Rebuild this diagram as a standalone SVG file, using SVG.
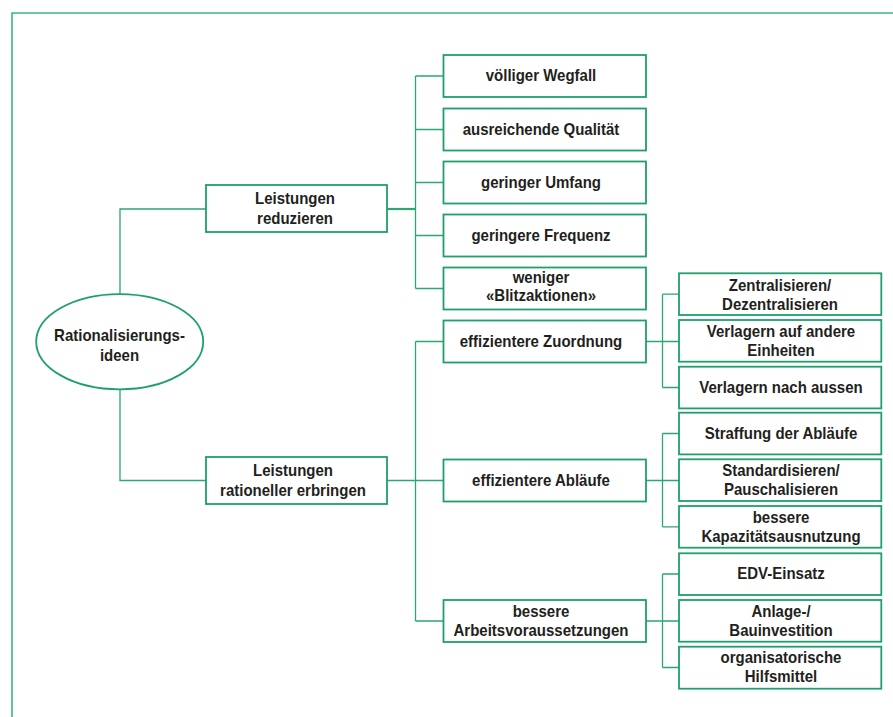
<svg xmlns="http://www.w3.org/2000/svg" width="893" height="717" viewBox="0 0 893 717">
<style>
.box{fill:#fff;stroke:#1fa06a;stroke-width:1.8}
.ln{fill:none;stroke:#2aa772;stroke-width:1.3}
.frame{fill:none;stroke:#3cb57f;stroke-width:1.6}
text{font-family:"Liberation Sans",Arial,sans-serif;font-weight:bold;font-size:15px;fill:#231f20;text-anchor:middle}
</style>
<rect width="893" height="717" fill="#fff"/>
<path class="frame" d="M12,717 V13 H893"/>
<g id="connectors">
<path class="ln" d="M206,209 H120 V294"/>
<path class="ln" d="M120,389 V480.5 H206"/>
<path class="ln" d="M387,209 H415.5" style="stroke-width:2.2"/>
<path class="ln" d="M415.5,76 V288.5"/>
<path class="ln" d="M415.5,76 H443 M415.5,129.5 H443 M415.5,182.5 H443 M415.5,235.5 H443 M415.5,288.5 H443"/>
<path class="ln" d="M387,480.5 H443"/>
<path class="ln" d="M415.5,341.5 V621"/>
<path class="ln" d="M415.5,341.5 H443 M415.5,621 H443"/>
<path class="ln" d="M646,341.5 H679 M662.5,294.2 V387.5 M662.5,294.2 H679 M662.5,387.5 H679"/>
<path class="ln" d="M646,480.5 H679 M662.5,433.5 V526.8 M662.5,433.5 H679 M662.5,526.8 H679"/>
<path class="ln" d="M646,621 H679 M662.5,574 V667.5 M662.5,574 H679 M662.5,667.5 H679"/>
</g>
<g id="root">
<ellipse class="box" cx="119.7" cy="341.7" rx="83.5" ry="47.6"/>
<text x="119.5" y="341" transform="matrix(1,0,0,1.13,0,-44.33)">Rationalisierungs-</text>
<text x="119.5" y="361.5" transform="matrix(1,0,0,1.13,0,-47.0)">ideen</text>
</g>
<g id="reduzieren">
<rect class="box" x="206" y="185" width="181" height="47"/>
<text x="295" y="204" transform="matrix(1,0,0,1.13,0,-26.52)">Leistungen</text>
<text x="295" y="224.5" transform="matrix(1,0,0,1.13,0,-29.19)">reduzieren</text>
</g>
<g id="rationeller">
<rect class="box" x="206" y="457" width="181" height="47"/>
<text x="293" y="476" transform="matrix(1,0,0,1.13,0,-61.88)">Leistungen</text>
<text x="293" y="496" transform="matrix(1,0,0,1.13,0,-64.48)">rationeller erbringen</text>
</g>
<g id="wegfall">
<rect class="box" x="443.5" y="55" width="202.5" height="42"/>
<text x="541" y="81.5" transform="matrix(1,0,0,1.13,0,-10.6)">völliger Wegfall</text>
</g>
<g id="qualitaet">
<rect class="box" x="443.5" y="108.5" width="202.5" height="42"/>
<text x="541" y="135" transform="matrix(1,0,0,1.13,0,-17.55)">ausreichende Qualität</text>
</g>
<g id="umfang">
<rect class="box" x="443.5" y="161.5" width="202.5" height="42"/>
<text x="541" y="188" transform="matrix(1,0,0,1.13,0,-24.44)">geringer Umfang</text>
</g>
<g id="frequenz">
<rect class="box" x="443.5" y="214.5" width="202.5" height="42"/>
<text x="541" y="241" transform="matrix(1,0,0,1.13,0,-31.33)">geringere Frequenz</text>
</g>
<g id="blitz">
<rect class="box" x="443.5" y="267.5" width="202.5" height="42"/>
<text x="541" y="283.5" transform="matrix(1,0,0,1.13,0,-36.86)">weniger</text>
<text x="541" y="301" transform="matrix(1,0,0,1.13,0,-39.13)">«Blitzaktionen»</text>
</g>
<g id="zuordnung">
<rect class="box" x="443.5" y="320.5" width="202.5" height="42"/>
<text x="541" y="347" transform="matrix(1,0,0,1.13,0,-45.11)">effizientere Zuordnung</text>
</g>
<g id="ablaeufe">
<rect class="box" x="443.5" y="459.5" width="202.5" height="42"/>
<text x="541" y="486" transform="matrix(1,0,0,1.13,0,-63.18)">effizientere Abläufe</text>
</g>
<g id="arbeit">
<rect class="box" x="443.5" y="600" width="202.5" height="42"/>
<text x="541" y="617.5" transform="matrix(1,0,0,1.13,0,-80.28)">bessere</text>
<text x="541" y="636" transform="matrix(1,0,0,1.13,0,-82.68)">Arbeitsvoraussetzungen</text>
</g>
<g id="zentral">
<rect class="box" x="679" y="273.3" width="202.3" height="41.7"/>
<text x="780" y="291" transform="matrix(1,0,0,1.13,0,-37.83)">Zentralisieren/</text>
<text x="780" y="310" transform="matrix(1,0,0,1.13,0,-40.3)">Dezentralisieren</text>
</g>
<g id="einheiten">
<rect class="box" x="679" y="320" width="202.3" height="41.7"/>
<text x="781" y="337" transform="matrix(1,0,0,1.13,0,-43.81)">Verlagern auf andere</text>
<text x="781" y="356" transform="matrix(1,0,0,1.13,0,-46.28)">Einheiten</text>
</g>
<g id="aussen">
<rect class="box" x="679" y="366.7" width="202.3" height="41.7"/>
<text x="781" y="393" transform="matrix(1,0,0,1.13,0,-51.09)">Verlagern nach aussen</text>
</g>
<g id="straffung">
<rect class="box" x="679" y="412.7" width="202.3" height="41.7"/>
<text x="781" y="439" transform="matrix(1,0,0,1.13,0,-57.07)">Straffung der Abläufe</text>
</g>
<g id="standard">
<rect class="box" x="679" y="459.3" width="202.3" height="41.7"/>
<text x="781" y="476.5" transform="matrix(1,0,0,1.13,0,-61.95)">Standardisieren/</text>
<text x="781" y="495.5" transform="matrix(1,0,0,1.13,0,-64.42)">Pauschalisieren</text>
</g>
<g id="kapazitaet">
<rect class="box" x="679" y="506" width="202.3" height="41.7"/>
<text x="781" y="523" transform="matrix(1,0,0,1.13,0,-67.99)">bessere</text>
<text x="781" y="542" transform="matrix(1,0,0,1.13,0,-70.46)">Kapazitätsausnutzung</text>
</g>
<g id="edv">
<rect class="box" x="679" y="553.3" width="202.3" height="41.7"/>
<text x="781" y="579.5" transform="matrix(1,0,0,1.13,0,-75.34)">EDV-Einsatz</text>
</g>
<g id="anlage">
<rect class="box" x="679" y="600" width="202.3" height="41.7"/>
<text x="781" y="617" transform="matrix(1,0,0,1.13,0,-80.21)">Anlage-/</text>
<text x="781" y="636" transform="matrix(1,0,0,1.13,0,-82.68)">Bauinvestition</text>
</g>
<g id="hilfsmittel">
<rect class="box" x="679" y="646.7" width="202.3" height="42"/>
<text x="781" y="663.5" transform="matrix(1,0,0,1.13,0,-86.26)">organisatorische</text>
<text x="781" y="682.5" transform="matrix(1,0,0,1.13,0,-88.73)">Hilfsmittel</text>
</g>
</svg>
